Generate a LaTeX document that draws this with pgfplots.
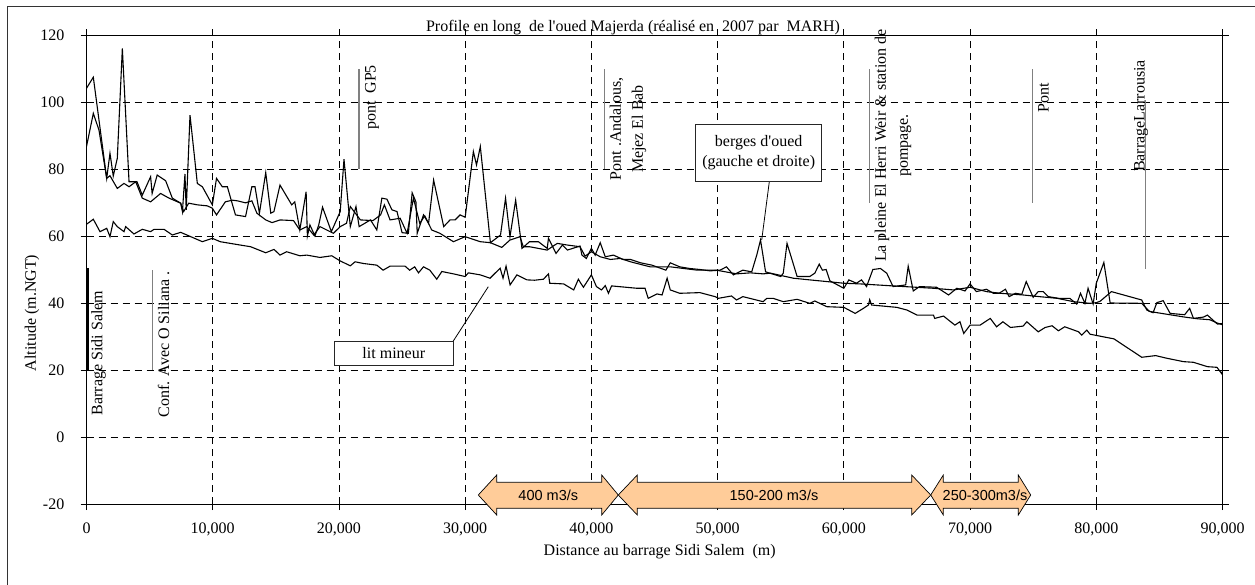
\documentclass[border=0pt]{standalone}
\usepackage{pgfplots}
\pgfplotsset{compat=1.18}
\usepackage{fontspec}
\setmainfont{Liberation Serif}
\newfontfamily\arialf{Liberation Sans}
\definecolor{peach}{HTML}{FFCC99}
\definecolor{annot}{HTML}{808080}
\newcommand\ft{\fontsize{16}{19.2}\selectfont}
\newcommand\ftt{\fontsize{16}{22}\selectfont}
\newcommand\q{\textquotesingle}
\begin{document}
\begin{tikzpicture}
\useasboundingbox (0pt,0pt) rectangle (1255pt,-584pt);
\draw[line width=1pt,black!80] (7pt,-590pt) -- (7pt,-6pt) -- (1260pt,-6pt);
\begin{axis}[
 at={(86.5pt,-504pt)}, anchor=south west,
 scale only axis, width=1136pt, height=469pt,
 xmin=0,xmax=90000,ymin=-20,ymax=120,
 xtick={0,10000,...,90000}, ytick={-20,0,...,120},
 scaled x ticks=false,
 /pgf/number format/assume math mode=true,
 /pgf/number format/1000 sep={,},
 tick label style={font=\ft, inner sep=0pt},
 xticklabel style={anchor=base, yshift=-23pt},
 yticklabel style={anchor=east, xshift=-16pt},
 tick align=outside, major tick length=6pt,
 tick style={black, line width=0.8pt},
 xmajorgrids, ymajorgrids,
 major grid style={black, line width=0.8pt, dash pattern=on 7pt off 5pt},
 axis line style={black, line width=1pt},
]
% berge A
\addplot[black, line width=1.1pt] coordinates {
(0,104.1)(540,107.4)(1600,77.2)(1860,84.7)(2120,77.9)(2440,83.2)(2840,116.0)(3370,76.2)(4000,76.2)(4420,72.2)(5080,77.7)(5200,72.7)(5600,78.2)(6270,76.5)(6800,71.3)(7460,69.8)(7600,67.3)(7800,78.5)(7900,67.8)(8200,96.1)(8780,75.7)(9180,74.7)(9970,69.3)(10300,77.2)(10760,74.7)(11160,74.7)(11800,66.3)(12600,65.8)(13100,74.7)(13350,74.7)(13700,66.8)(14200,78.9)(14600,66.8)(14850,67.3)(15330,75.2)(16260,69.3)(16500,70.2)(16900,61.8)(17400,73.2)(17500,60.0)(17700,63.3)(18100,60.0)(18400,63.3)(18700,68.6)(19400,61.3)(20100,67.3)(20400,82.9)(20900,62.8)(21350,68.8)(21600,62.8)(22500,64.8)(23000,61.8)(23400,71.3)(23800,71.0)(24200,67.8)(24600,67.3)(25000,61.0)(25500,60.8)(25800,72.9)(26100,70.2)(26200,60.8)(26700,66.3)(27100,63.8)(27500,76.7)(28300,62.8)(28800,64.8)(29200,64.8)(29600,66.3)(30000,65.6)(30650,85.2)(30900,81.2)(31200,86.7)(32000,58.0)(32800,60.3)(33200,71.3)(33550,59.8)(34000,70.7)(34500,56.3)(35100,58.3)(35800,58.3)(36500,56.3)(36600,59.3)(37200,54.8)(37700,57.3)(38100,55.8)(39100,57.0)(39250,54.3)(39600,53.3)(40000,56.3)(40300,54.3)(40700,58.0)(41100,53.8)(41750,54.3)(42500,53.0)(43100,53.0)(43900,52.0)(44800,51.3)(45900,49.8)(46250,52.0)(47000,50.8)(47800,50.3)(48600,50.0)(49400,49.6)(50200,49.8)(50700,50.8)(51250,48.4)(52000,49.8)(52700,49.3)(53100,54.3)(53400,58.8)(53800,49.3)(55000,47.9)(55200,48.9)(55500,57.8)(56300,47.9)(57300,47.9)(57700,48.9)(58050,51.6)(58300,49.8)(58600,50.0)(58900,46.6)(60000,44.4)(60400,46.9)(61000,45.9)(61400,46.9)(61800,44.9)(62300,50.0)(62900,50.3)(63400,48.9)(63900,44.9)(64900,45.4)(65100,51.0)(65500,43.6)(66000,44.9)(67350,44.7)(68300,42.4)(68950,44.4)(69600,43.6)(70000,45.7)(70500,43.4)(71300,44.1)(71850,42.9)(72300,42.9)(72800,44.1)(73100,41.9)(73600,42.9)(74100,42.6)(74450,46.4)(75000,41.7)(75400,43.4)(75800,43.4)(76200,41.9)(77000,41.4)(77900,41.4)(78450,39.7)(78750,42.9)(79100,39.9)(79350,44.4)(79750,39.7)(80000,45.9)(80600,52.1)(81100,40.0)(83600,39.9)(84200,37.5)(85000,37.0)(86000,36.4)(87000,35.8)(88000,35.3)(89000,35.0)(89600,34.0)(90000,33.5)
};
% berge B
\addplot[black, line width=1.1pt] coordinates {
(0,86.7)(540,96.6)(990,91.6)(1600,77.2)(1860,78.0)(2440,74.2)(2970,75.7)(3370,74.7)(3900,76.2)(4420,71.3)(5080,70.2)(5870,72.7)(6540,71.3)(7460,69.8)(7700,67.3)(8100,69.8)(8780,69.3)(9570,69.0)(9970,68.3)(10300,66.3)(11000,70.2)(11550,70.7)(11950,70.5)(12600,69.9)(13100,70.5)(13500,66.8)(14200,64.8)(14700,64.0)(15330,64.8)(16400,64.6)(16900,61.8)(17450,62.8)(18000,60.3)(18500,62.8)(19560,60.8)(20100,62.8)(20600,63.8)(20900,68.8)(21700,64.8)(22700,64.6)(23300,66.3)(23600,69.3)(24050,64.8)(24850,65.3)(25400,60.8)(25900,71.3)(26400,63.8)(26800,66.0)(27350,61.8)(28000,60.8)(29070,58.3)(30000,59.8)(31200,58.3)(32000,58.0)(32900,56.6)(33550,58.8)(34350,59.8)(34600,56.8)(35100,56.8)(36500,55.8)(37300,57.8)(38100,57.3)(39100,56.8)(39500,54.0)(40000,55.3)(40700,53.8)(41500,53.0)(42300,53.3)(43100,52.3)(44650,50.8)(46250,50.8)(48400,49.8)(49900,49.8)(51500,48.7)(52600,49.0)(53600,48.7)(54200,48.9)(56000,47.4)(57300,46.9)(58650,46.4)(60000,45.9)(61300,45.7)(62600,45.4)(63900,45.1)(67100,44.4)(68700,43.9)(70000,44.7)(71300,43.4)(72400,42.9)(74200,42.4)(75500,41.9)(76900,41.4)(78200,40.4)(79500,39.9)(80000,40.1)(80300,40.5)(81200,43.4)(83600,40.9)(84000,37.9)(84500,37.1)(84800,40.1)(85300,40.7)(85850,36.9)(87000,36.5)(87400,38.4)(87700,35.4)(88500,35.8)(88800,36.4)(89600,33.7)(90000,33.9)
};
% lit mineur
\addplot[black, line width=1.1pt] coordinates {
(0,63.5)(540,65.0)(1070,61.3)(1600,62.3)(1860,59.8)(2120,64.3)(2440,62.8)(2970,61.3)(3100,62.8)(3760,60.6)(4420,62.0)(5080,61.3)(5350,62.0)(6140,62.0)(6800,60.3)(7460,61.1)(8260,59.8)(9180,58.3)(9970,59.3)(10600,58.3)(11700,57.6)(13000,56.8)(14200,55.0)(14860,56.0)(15330,54.3)(15860,55.3)(16900,54.1)(17450,54.3)(18500,53.6)(19430,54.1)(20080,52.6)(20900,51.1)(21280,52.3)(21930,51.8)(23000,51.3)(23500,49.8)(24050,51.0)(25240,51.0)(25600,49.8)(26000,50.8)(26300,49.0)(26700,50.8)(27200,49.8)(27750,47.1)(28150,49.4)(29070,48.7)(30000,47.9)(30250,49.0)(31200,48.4)(31970,47.4)(32770,50.4)(33000,47.4)(33240,51.0)(33560,45.4)(34100,48.4)(34900,46.9)(35500,46.8)(36200,47.1)(36600,48.7)(36700,45.9)(37800,45.7)(38600,43.9)(38970,47.1)(39160,45.9)(39370,44.7)(40000,48.4)(40400,44.9)(40800,43.9)(41100,45.2)(41350,42.9)(41600,45.1)(43600,44.4)(44250,44.4)(44500,41.4)(45200,42.7)(45600,42.4)(46000,47.4)(46250,43.9)(47000,42.9)(48600,43.1)(49800,41.9)(50060,41.4)(51100,42.1)(51500,40.9)(52000,41.9)(53600,40.4)(53900,41.4)(54400,41.4)(55200,40.4)(56300,41.1)(57300,39.9)(57700,40.6)(58650,38.9)(60000,38.7)(60900,36.9)(61550,38.4)(61950,39.4)(62050,41.0)(62200,39.4)(64200,38.7)(65000,37.9)(65800,36.4)(67100,36.4)(67200,35.4)(67900,36.1)(68800,33.4)(69200,34.4)(69500,30.9)(70000,33.4)(70800,33.4)(71600,35.4)(72100,32.9)(72600,34.4)(73200,32.7)(74200,33.1)(74500,34.4)(75400,31.4)(75950,32.7)(76500,33.2)(77000,31.7)(77500,32.9)(78600,31.4)(78850,30.4)(79250,31.9)(79500,30.7)(80700,29.8)(81400,29.3)(83600,23.8)(84700,24.3)(85600,23.5)(86900,22.5)(87700,22.3)(88800,21.0)(89560,20.8)(89960,18.8)(90000,20.0)
};
\end{axis}
\begin{scope}[x=1pt,y=-1pt]
% titles
\node[font=\ft] at (633,28) {Profile en long\ \ de l\q oued Majerda (réalisé en\ \ 2007 par\ \ MARH)};
\node[font=\ft] at (659.7,552) {Distance au barrage Sidi Salem\ \ (m)};
\node[font=\ft, rotate=90] at (32,313) {Altitude (m.NGT)};
% vertical markers
\draw[black, line width=2.2pt] (88,268) -- (88,370);
\node[font=\ft, rotate=90, inner sep=0pt] at (98.5,353) {Barrage Sidi Salem};
\draw[annot, line width=1.3pt] (152.7,270) -- (152.7,370);
\node[font=\ft, rotate=90, inner sep=0pt] at (163.5,344.5) {Conf. Avec O Siliana .};
\draw[annot, line width=1.3pt] (359,69) -- (359,169);
\node[font=\ft, rotate=90, inner sep=0pt] at (372,97.5) {pont\ \ GP5};
\draw[annot, line width=1.3pt] (604.3,69) -- (604.3,169);
\node[font=\ftt, rotate=90, inner sep=0pt, align=center] at (628,129) {Pont .Andalous,\\Mejez El Bab};
\draw[annot, line width=1.3pt] (869.3,69) -- (869.3,203);
\node[font=\ftt, rotate=90, inner sep=0pt, align=center] at (893,145.5) {La pleine El Herri Weir \& station de\\pompage.};
\draw[annot, line width=1.3pt] (1032.7,69) -- (1032.7,203);
\node[font=\ft, rotate=90, inner sep=0pt] at (1043.5,98) {Pont};
\draw[annot, line width=1.3pt] (1145.7,100) -- (1145.7,269);
\node[font=\ft, rotate=90, inner sep=0pt] at (1141,116) {BarrageLarrousia};
% callouts
\draw[black, line width=0.8pt] (769.3,181.7) -- (761.7,240);
\draw[black!85, line width=0.8pt, fill=white] (695.7,124.3) rectangle (821.7,181.7);
\node[font=\fontsize{16}{20}\selectfont, align=center] at (758.7,153) {berges d\q oued\\(gauche et droite)};
\draw[black, line width=0.8pt] (453.3,341) -- (488.3,286.7);
\draw[black!85, line width=0.8pt, fill=white] (334.3,341) rectangle (453.3,365);
\node[font=\ft] at (393.8,353) {lit mineur};
% flow arrows
\draw[black, line width=0.7pt, fill=peach] (478.3,495) -- (496.7,475) -- (496.7,482.3) -- (601.7,482.3) -- (601.7,475) -- (618.3,495) -- (601.7,515) -- (601.7,508.3) -- (496.7,508.3) -- (496.7,515) -- cycle;
\node[font=\arialf\fontsize{14.5}{17}\selectfont] at (548.3,495) {400 m3/s};
\draw[black, line width=0.7pt, fill=peach] (618.3,495) -- (637.3,475) -- (637.3,482.3) -- (911.7,482.3) -- (911.7,475) -- (930.7,495) -- (911.7,515) -- (911.7,508.3) -- (637.3,508.3) -- (637.3,515) -- cycle;
\node[font=\arialf\fontsize{14.5}{17}\selectfont] at (774,495) {150-200 m3/s};
\draw[black, line width=0.7pt, fill=peach] (930.7,495) -- (943.3,475) -- (943.3,482.3) -- (1018.3,482.3) -- (1018.3,475) -- (1030.7,495) -- (1018.3,515) -- (1018.3,508.3) -- (943.3,508.3) -- (943.3,515) -- cycle;
\node[font=\arialf\fontsize{14.5}{17}\selectfont] at (985,495) {250-300m3/s};
\end{scope}
\end{tikzpicture}
\end{document}
